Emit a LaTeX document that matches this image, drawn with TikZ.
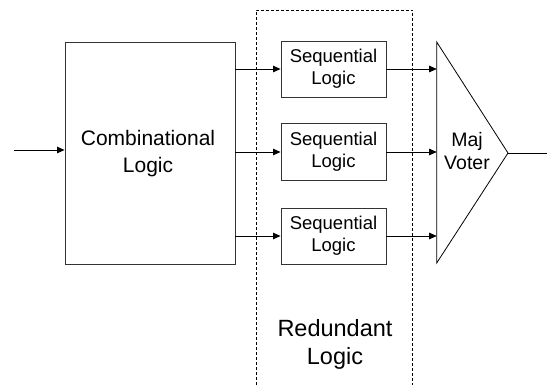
\documentclass[tikz,border=0pt]{standalone}
\usepackage{fontspec}
\setmainfont{Liberation Sans}
\usetikzlibrary{arrows.meta}
\begin{document}
\begin{tikzpicture}[x=1pt,y=-1pt,
  blk/.style={draw=black!80, line width=0.9pt, rectangle, inner sep=0pt},
  conn/.style={line width=0.8pt, -{Triangle[length=7.5pt,width=6.5pt]}},
  plain/.style={line width=0.8pt},
  bigtxt/.style={font=\fontsize{21}{27}\selectfont, align=center},
  medtxt/.style={font=\fontsize{18.5}{22}\selectfont, align=center},
  redtxt/.style={font=\fontsize{23.5}{28}\selectfont, align=center}]
\useasboundingbox (0,0) rectangle (547,385);
% combinational block
\node[blk, minimum width=170pt, minimum height=222pt] (comb) at (150,153) {};
\node[bigtxt] (combt) at (148,154) {Combinational\\Logic};
% sequential blocks
\node[blk, minimum width=105pt, minimum height=56pt, medtxt] (s1) at (333.5,69) {Sequential\\Logic};
\node[blk, minimum width=105pt, minimum height=57pt, medtxt] (s2) at (333.5,152) {Sequential\\Logic};
\node[blk, minimum width=105pt, minimum height=56pt, medtxt] (s3) at (333.5,236) {Sequential\\Logic};
% redundant dashed region
\coordinate (dbl) at (256,385);
\coordinate (dtr) at (412.7,10);
\coordinate (dbr) at (412.7,385);
\draw[line width=0.8pt, dash pattern=on 3pt off 2pt] (dbl) |- (dtr) -- (dbr);
\node[redtxt] (red) at (335,344) {Redundant\\Logic};
% voter
\coordinate (vt) at (436.7,42);
\coordinate (vb) at (436.7,263);
\coordinate (vtip) at (508,153);
\draw[line width=0.8pt] (vt) -- (vtip) -- (vb) -- cycle;
\node[medtxt, font=\fontsize{19.5}{23}\selectfont] (vtxt) at (467,151) {Maj\\Voter};
% input / output
\coordinate (in) at (14,150);
\coordinate (out) at (547,153);
\draw[conn] (in) -- (in -| comb.west);
\draw[plain] (vtip) -- (out);
% comb -> seq
\draw[conn] (s1.west -| comb.east) -- (s1.west);
\draw[conn] (s2.west -| comb.east) -- (s2.west);
\draw[conn] (s3.west -| comb.east) -- (s3.west);
% seq -> voter
\draw[conn] (s1.east) -- (s1.east -| vt);
\draw[conn] (s2.east) -- (s2.east -| vt);
\draw[conn] (s3.east) -- (s3.east -| vt);
\end{tikzpicture}
\end{document}
